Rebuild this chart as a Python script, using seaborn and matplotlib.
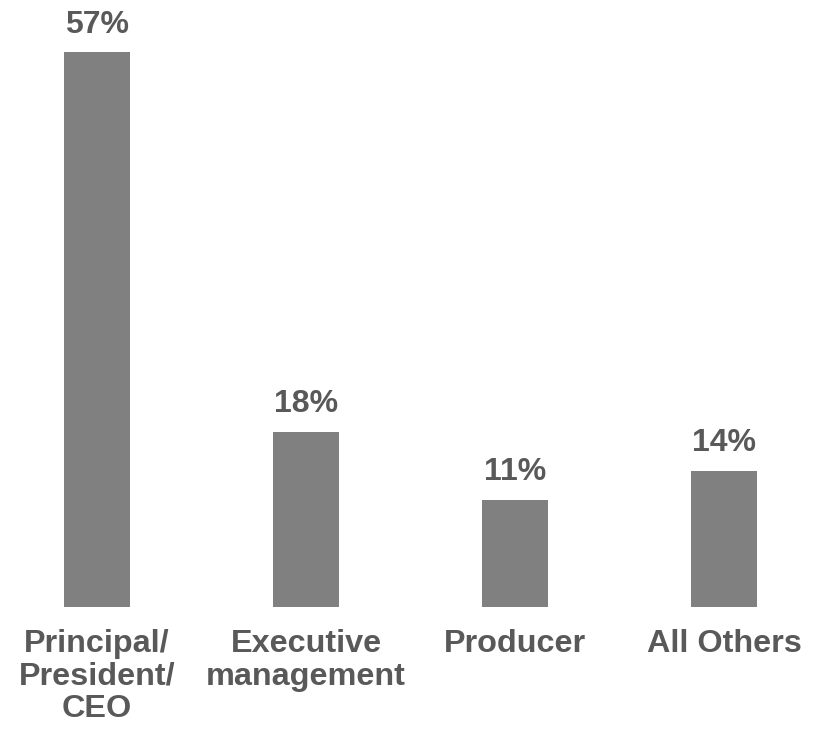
import matplotlib
matplotlib.use("Agg")
import matplotlib.pyplot as plt
import seaborn as sns
import pandas as pd

categories = ["Principal/\nPresident/\nCEO", "Executive\nmanagement", "Producer", "All Others"]
values = [57, 18, 11, 14]
value_labels = ["57%", "18%", "11%", "14%"]

sns.set_theme(style="white")
plt.rcParams["font.family"] = ["Liberation Sans", "DejaVu Sans"]

TEXT = "#595959"
BAR = "#808080"

df = pd.DataFrame({"role": categories, "share": values})

fig = plt.figure(figsize=(8.17, 7.33), dpi=100)
ax = fig.add_axes([0, (733 - 607) / 733, 1, 607 / 733])

sns.barplot(data=df, x="role", y="share", color=BAR, saturation=1,
            width=0.316, ax=ax, edgecolor="none")

ax.set_xlim(-97 / 209, (817 - 97) / 209)
ax.set_ylim(0, 607 / (555 / 57))

for i, (v, lab) in enumerate(zip(values, value_labels)):
    ax.annotate(lab, (i, v), xytext=(0, 14), textcoords="offset points",
                ha="center", va="baseline", fontsize=23,
                fontweight="bold", color=TEXT)

ax.set_xlabel("")
ax.set_ylabel("")
ax.set_yticks([])
ax.tick_params(axis="x", length=0, pad=16)
for t in ax.get_xticklabels():
    t.set_fontsize(23.3)
    t.set_fontweight("bold")
    t.set_color(TEXT)
    t.set_linespacing(1.1)
    t.set_multialignment("center")

for s in ax.spines.values():
    s.set_visible(False)

fig.savefig("out.png", dpi=100)
